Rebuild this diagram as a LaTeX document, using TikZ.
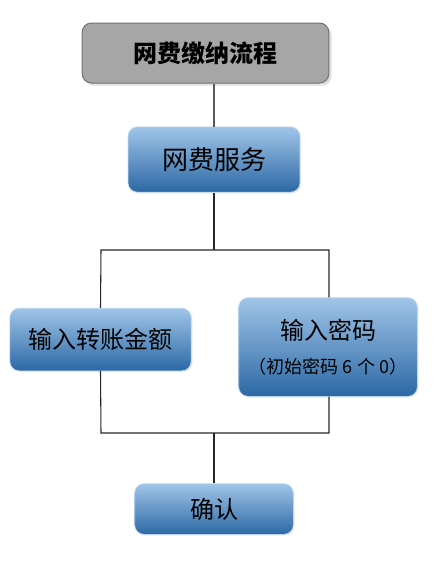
\documentclass[tikz,border=0pt]{standalone}
\usepackage{fontspec}
\newfontfamily\cjk{Noto Sans CJK SC}
\usetikzlibrary{positioning,shadows}
\definecolor{boxtop}{RGB}{160,197,232}
\definecolor{boxmid}{RGB}{92,154,212}
\definecolor{boxbot}{RGB}{44,104,165}
\definecolor{headfill}{RGB}{166,166,166}

\begin{document}
\begin{tikzpicture}[x=0.75pt,y=-0.75pt,
	blue box/.style={rounded corners=7pt, top color=boxtop, middle color=boxmid, bottom color=boxbot,
		draw=boxtop!60, line width=0.5pt, drop shadow={opacity=0.15, shadow xshift=1pt, shadow yshift=-1pt},
		align=center, font=\cjk\fontsize{18pt}{22pt}\selectfont, inner sep=0pt},
	head box/.style={rounded corners=7pt, fill=headfill, draw=black!55, line width=0.75pt,
		drop shadow={opacity=0.25, shadow xshift=2pt, shadow yshift=-2pt},
		font=\cjk\bfseries\fontsize{18pt}{22pt}\selectfont},
	link/.style={line width=0.8pt, draw=black!85}]
	\useasboundingbox (0,0) rectangle (445,564);
	\node[head box, minimum width=185pt, minimum height=45pt] (head) at (205.5,53) {网费缴纳流程};
	\node[blue box, minimum width=129pt, minimum height=49pt, font=\cjk\fontsize{19.5pt}{22pt}\selectfont] (serv) at (214,159.5) {网费服务};
	\node[blue box, minimum width=136pt, minimum height=47pt] (amt) at (100.5,339.5) {输入转账金额};
	\node[blue box, minimum width=134pt, minimum height=74pt] (pwd) at (328,347) {输入密码\\[3pt]{\fontsize{13.5pt}{16pt}\selectfont （初始密码 6 个 0）}};
	\node[blue box, minimum width=119pt, minimum height=38pt] (ok) at (214,509) {确认};
	\coordinate (top) at (214,250);
	\coordinate (tl) at (101,250);
	\coordinate (tr) at (329,250);
	\coordinate (bl) at (101,433);
	\coordinate (br) at (329,433);
	\coordinate (bot) at (214,433);
	\draw [link, draw=black!65] (head.south -| serv) -- (serv);
	\draw [link] (serv) -- (top);
	\draw [link] (amt.north) -- (tl) -- (tr) -- (pwd.north -| tr);
	\draw [link] (amt.south) -- (bl) -- (br) -- (pwd.south -| br);
	\draw [link] (bot) -- (ok);
\end{tikzpicture}
\end{document}
